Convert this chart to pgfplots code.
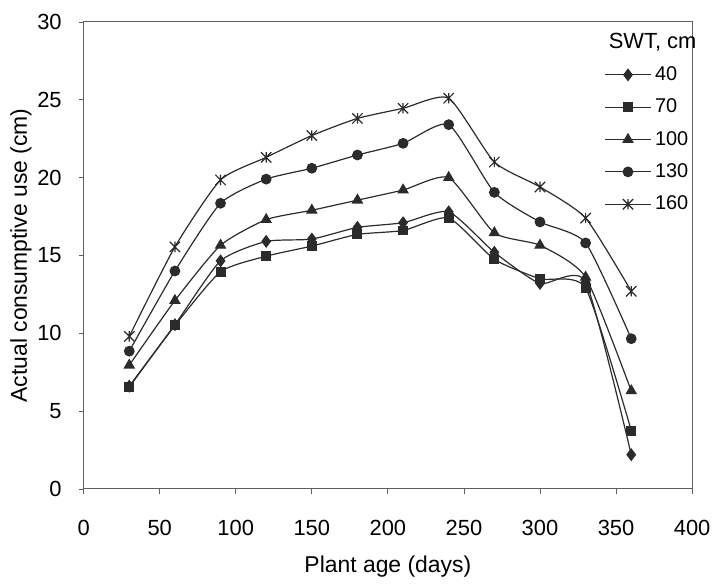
\documentclass[border=0pt]{standalone}
\usepackage{fontspec}
\setmainfont{Liberation Sans}
\usepackage{pgfplots}
\pgfplotsset{compat=1.18}
\definecolor{ink}{HTML}{2B2B2B}
\pgfdeclareplotmark{xstar}{%
 \pgfpathmoveto{\pgfqpoint{-\pgfplotmarksize}{-\pgfplotmarksize}}%
 \pgfpathlineto{\pgfqpoint{\pgfplotmarksize}{\pgfplotmarksize}}%
 \pgfpathmoveto{\pgfqpoint{-\pgfplotmarksize}{\pgfplotmarksize}}%
 \pgfpathlineto{\pgfqpoint{\pgfplotmarksize}{-\pgfplotmarksize}}%
 \pgfpathmoveto{\pgfqpoint{0pt}{-\pgfplotmarksize}}%
 \pgfpathlineto{\pgfqpoint{0pt}{\pgfplotmarksize}}%
 \pgfusepathqstroke}
\begin{document}
\begin{tikzpicture}
\begin{axis}[
  name=ax,
  scale only axis,
  width=305.5pt, height=234.5pt,
  xmin=0, xmax=400, ymin=0, ymax=30,
  xtick={0,50,...,400}, ytick={0,5,...,30},
  tick align=outside,
  xtick pos=bottom, ytick pos=left,
  major tick length=2.5pt,
  axis line style={ink!75, line width=0.5pt},
  tick style={ink!75, line width=0.4pt},
  ticklabel style={font=\fontsize{11}{13}\selectfont},
  /pgf/number format/assume math mode=true,
  xticklabel style={yshift=-9.5pt},
  yticklabel style={xshift=-5pt},
  label style={font=\fontsize{11.5}{13}\selectfont},
  xlabel={Plant age (days)},
  ylabel={Actual consumptive use (cm)},
  xlabel style={yshift=-3.5pt},
  ylabel style={yshift=-4pt},
  every axis plot/.append style={draw=ink, line width=0.6pt, smooth, tension=0.35, mark options={fill=ink, draw=ink, solid}},
  legend style={draw=none, fill=none, at={(0.856,0.914)}, anchor=north west, row sep=3.75pt,
    font=\fontsize{10}{12}\selectfont, inner sep=0pt},
  legend cell align=left,
  legend image code/.code={\draw[mark repeat=2,mark phase=2] plot coordinates {(0cm,0cm) (0.397cm,0cm) (0.794cm,0cm)};},
  clip=false,
]
\addplot[mark=diamond*, mark size=2.8pt] coordinates {
 (30,6.6) (60,10.55) (90,14.65) (120,15.9) (150,16.05) (180,16.8) (210,17.1) (240,17.8) (270,15.2) (300,13.2) (330,13.3) (360,2.2)};
\addlegendentry{40}
\addplot[mark=square*, mark size=2.2pt] coordinates {
 (30,6.55) (60,10.5) (90,13.95) (120,14.95) (150,15.6) (180,16.35) (210,16.6) (240,17.4) (270,14.75) (300,13.5) (330,12.9) (360,3.75)};
\addlegendentry{70}
\addplot[mark=triangle*, mark size=2.8pt] coordinates {
 (30,7.95) (60,12.1) (90,15.65) (120,17.3) (150,17.9) (180,18.55) (210,19.2) (240,20.0) (270,16.45) (300,15.65) (330,13.6) (360,6.3)};
\addlegendentry{100}
\addplot[mark=*, mark size=2.4pt] coordinates {
 (30,8.85) (60,14.0) (90,18.35) (120,19.9) (150,20.6) (180,21.45) (210,22.2) (240,23.4) (270,19.05) (300,17.15) (330,15.8) (360,9.65)};
\addlegendentry{130}
\addplot[mark=xstar, mark size=2.6pt] coordinates {
 (30,9.8) (60,15.55) (90,19.85) (120,21.3) (150,22.7) (180,23.8) (210,24.45) (240,25.1) (270,21.0) (300,19.4) (330,17.4) (360,12.7)};
\addlegendentry{160}
\node[anchor=west, inner sep=0pt, font=\fontsize{11}{13}\selectfont] at (rel axis cs:0.8625,0.957) {SWT, cm};
\end{axis}
\path (ax.south west) ++(-42pt,-42.5pt) rectangle ++(358.5pt,288pt);
\end{tikzpicture}
\end{document}
